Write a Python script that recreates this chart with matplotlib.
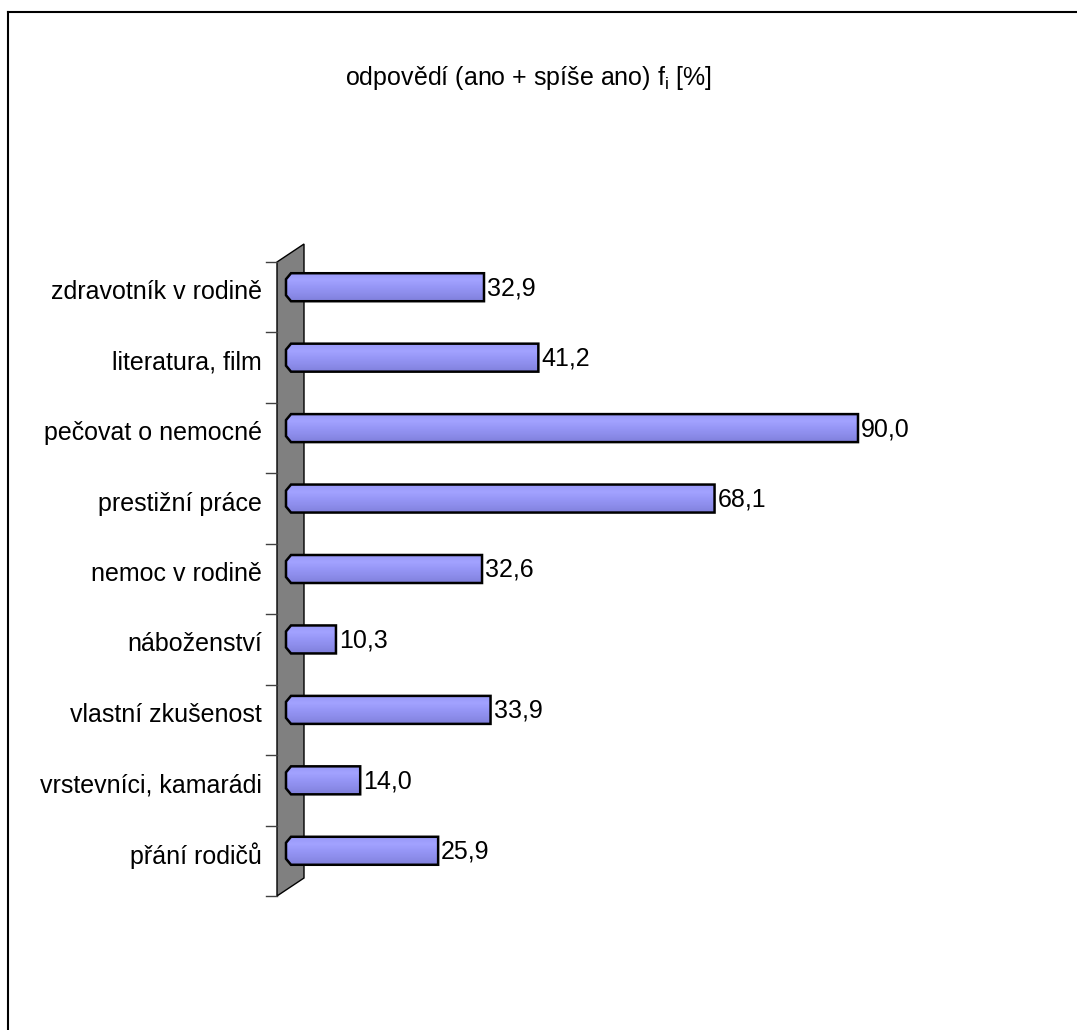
import numpy as np
import matplotlib.pyplot as plt
from matplotlib.patches import Polygon
from matplotlib.lines import Line2D
from matplotlib.colors import LinearSegmentedColormap

plt.rcParams['font.family'] = ['Liberation Sans', 'DejaVu Sans']
plt.rcParams['mathtext.default'] = 'regular'

categories = ['zdravotník v rodině', 'literatura, film', 'pečovat o nemocné',
              'prestižní práce', 'nemoc v rodině', 'náboženství',
              'vlastní zkušenost', 'vrstevníci, kamarádi', 'přání rodičů']
values = [32.9, 41.2, 90.0, 68.1, 32.6, 10.3, 33.9, 14.0, 25.9]
value_labels = ['32,9', '41,2', '90,0', '68,1', '32,6', '10,3', '33,9', '14,0', '25,9']
title = 'odpovědí (ano + spíše ano) f$_{i}$ [%]'

W, H = 1077, 1030
FS = 18
fig = plt.figure(figsize=(W / 100, H / 100), dpi=100)

# plot area: x=0 at px 268.5, 6.55 px per percent; 9 rows between px 262 and 896
x0_px, px_per = 268.5, 6.55
top_px, bot_px = 262, 896
ax = fig.add_axes([x0_px / W, (H - bot_px) / H, 100 * px_per / W, (bot_px - top_px) / H])
ax.set_xlim(0, 100)
ax.set_ylim(8.5, -0.5)
ax.axis('off')

row_px = (bot_px - top_px) / 9.0
def px_x(dx):
    return dx / px_per
def px_y(dy):
    return dy / row_px

# grey 3D wall on the left
wl, wr = px_x(277 - x0_px), px_x(304 - x0_px)
depth = px_y(18)
wall = Polygon([(wl, -0.5), (wr, -0.5 - depth), (wr, 8.5 - depth), (wl, 8.5)],
               closed=True, facecolor='#808080', edgecolor='black', lw=1.0,
               clip_on=False, zorder=1)
ax.add_patch(wall)

# category tick marks
for b in np.arange(-0.5, 9.0, 1.0):
    ax.plot([px_x(266 - x0_px), wl], [b, b], color='#404040', lw=1.0,
            clip_on=False, zorder=1)

cmap = LinearSegmentedColormap.from_list(
    'bar', ['#9a9af8', '#a2a2ff', '#9696f6', '#8c8cea', '#8080dc'])
grad = np.linspace(0, 1, 64).reshape(-1, 1)

bar_h = px_y(28)
shift = px_y(10)
x_start = px_x(286 - x0_px)
cdx, cdy = px_x(5), px_y(6)

for i, (v, lab) in enumerate(zip(values, value_labels)):
    yc = i - shift
    yt, yb = yc - bar_h / 2, yc + bar_h / 2
    pts = [(v, yt), (x_start + cdx, yt), (x_start, yt + cdy),
           (x_start, yb - cdy), (x_start + cdx, yb), (v, yb)]
    poly = Polygon(pts, closed=True, facecolor='none', edgecolor='black',
                   lw=1.8, clip_on=False, zorder=4)
    im = ax.imshow(grad, cmap=cmap, aspect='auto', interpolation='bilinear',
                   extent=[x_start, v, yb, yt], zorder=3)
    ax.add_patch(poly)
    im.set_clip_path(poly)
    ax.text(v + px_x(3), yc + px_y(1), lab, ha='left', va='center', fontsize=FS)

ax.set_xlim(0, 100)
ax.set_ylim(8.5, -0.5)

for i, c in enumerate(categories):
    ax.text(px_x(262 - x0_px), i - px_y(5), c, ha='right', va='center', fontsize=FS)

fig.text(529 / W, 1 - 78 / H, title, ha='center', va='center', fontsize=FS)

# outer chart frame (left and top edges)
fig.add_artist(Line2D([8 / W, 8 / W], [0, 1 - 12 / H], color='black', lw=1.5))
fig.add_artist(Line2D([8 / W, 1], [1 - 12 / H, 1 - 12 / H], color='black', lw=1.5))

fig.savefig('out.png', dpi=100, facecolor='white')
